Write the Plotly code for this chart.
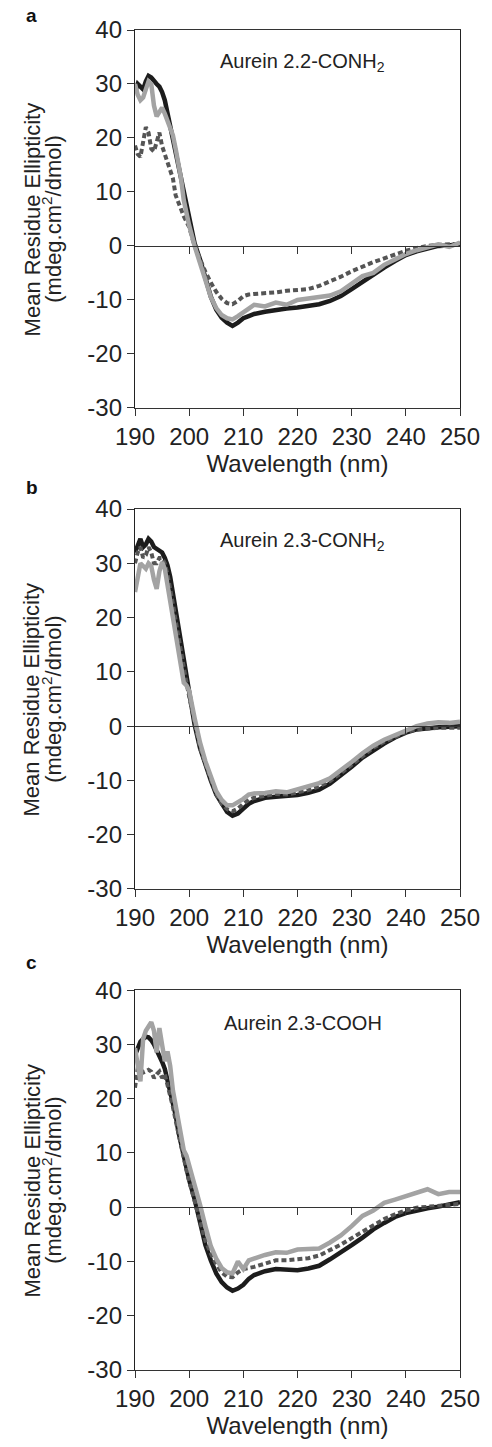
import plotly.graph_objects as go

# ---------------- data ----------------
wavelength = [190, 190.5, 191, 191.5, 192, 192.5, 193, 193.5, 194, 194.5, 195, 195.5,
              196, 196.5, 197, 197.5, 198, 198.5, 199, 199.5, 200,
              201, 202, 203, 204, 205, 206, 207, 208, 209, 210, 211, 212,
              214, 216, 218, 220, 222, 224, 226, 228, 230, 232, 234, 236, 238, 240,
              242, 244, 246, 248, 250]

a_black = [28.5, 30, 29.5, 29, 30.5, 31.5, 31.2, 30.5, 30, 29.5, 28.5, 27,
           24.5, 22.5, 20.5, 18, 15.5, 12.5, 9.5, 7, 4.5,
           0.5, -2.5, -5.8, -9.4, -11.8, -13.3, -14.2, -14.8, -14.2, -13.4, -13, -12.6,
           -12.2, -11.8, -11.6, -11.4, -11.1, -10.8, -10.2, -9.3, -8, -6.6, -5.2, -4, -2.8, -1.7,
           -1, -0.4, 0, 0.1, 0.4]
a_dash = [18.6, 17, 16.5, 19, 22, 21, 18, 17.5, 19, 21, 18.5, 17,
          16, 14.5, 12.5, 9.4, 8, 6.6, 5.5, 4.5, 3.5,
          0, -2.5, -4.8, -6.8, -8.5, -9.8, -10.6, -10.8, -10.2, -9.3, -9, -8.9,
          -8.8, -8.6, -8.3, -8.2, -8, -7.4, -6.6, -5.7, -4.7, -3.8, -3, -2.3, -1.6, -0.9,
          -0.4, 0, 0.2, 0.3, 0.4]
a_gray = [30, 28, 27, 27.5, 29, 30.5, 30, 26, 24, 25, 25.6, 24.5,
          23, 21.8, 20.5, 18, 15.6, 12.5, 8.5, 6, 3.8,
          0, -3, -6.5, -9.5, -11.5, -12.8, -13.4, -13.6, -13, -12.4, -11.6, -10.9,
          -11.2, -10.5, -10.9, -10, -9.8, -9.5, -9.2, -8.4, -7, -5.6, -5, -3.5, -2.5, -1.5,
          -0.8, -0.2, 0.3, -0.2, 0.6]

b_black = [32, 33.5, 34.5, 33, 33.5, 34.5, 34, 33, 32.7, 32.3, 32, 31,
           29.6, 27.5, 24.5, 21.5, 18.5, 15.5, 12.5, 9.5, 6.5,
           0.3, -4, -7.2, -10, -12.6, -14.4, -15.8, -16.5, -16.1, -15.2, -14.3, -13.8,
           -13.2, -13, -12.9, -12.7, -12.3, -11.7, -10.6, -9.1, -7.5, -5.8, -4.4, -3.2, -2.1, -1.2,
           -0.6, -0.3, -0.2, -0.1, 0]
b_dash = [30, 32, 33, 31, 31.5, 33, 32, 30, 30, 31, 31, 30,
          28, 25.5, 22.5, 19.5, 16.5, 13, 10.5, 8, 5.5,
          0.8, -4, -7, -10, -12.5, -14.3, -15.3, -15.7, -15.2, -14.3, -13.6, -13.2,
          -12.8, -12.5, -12.6, -12.2, -11.8, -11.1, -10.1, -8.7, -7.1, -5.4, -4, -2.9, -1.9, -1.1,
          -0.6, -0.4, -0.3, -0.3, -0.3]
b_gray = [24.7, 27.5, 30, 29.5, 29, 30, 29.5, 27, 25.3, 28.5, 30.2, 29,
          26, 23, 19.5, 16, 13.5, 10, 8, 7.5, 6.5,
          1.5, -3, -6.5, -9.5, -12, -13.6, -14.6, -14.6, -14.1, -13.4, -12.6, -12.4,
          -12.3, -12, -12.2, -11.7, -11.1, -10.5, -9.6, -8.2, -6.6, -5, -3.6, -2.5, -1.6, -0.7,
          0, 0.5, 0.7, 0.6, 0.8]

c_black = [28, 29.5, 30.5, 31, 31.4, 31.3, 30.8, 30, 29, 28, 26.8, 25.5,
           23.5, 21.5, 19.3, 17, 14, 11.5, 9.2, 7.2, 5,
           1.5, -2.5, -7, -9.8, -12.2, -13.8, -14.8, -15.4, -15, -14.3, -13.2, -12.5,
           -11.8, -11.4, -11.6, -11.6, -11.3, -10.8, -9.6, -8.4, -7, -5.6, -4.1, -2.9, -1.8, -1.1,
           -0.6, -0.2, 0.1, 0.5, 0.9]
c_dash = [22, 25.6, 25.5, 24.8, 25, 25.3, 25, 23.8, 24.5, 25, 23.8, 24.5,
          22.5, 20.8, 18.5, 16, 13.5, 11, 8.8, 6.8, 4.8,
          1.2, -2.5, -6.2, -8.5, -10.5, -12, -12.8, -12.9, -12, -11.4, -11.2, -11,
          -10.4, -9.8, -9.8, -9.6, -9.4, -8.9, -8, -6.9, -5.7, -4.5, -3.3, -2.2, -1.3, -0.6,
          -0.1, 0.1, 0.3, 0.5, 0.6]
c_gray = [29.3, 26, 23.2, 31, 32.5, 33.3, 34.1, 32.5, 28.5, 33, 30, 26.9,
          28.7, 26, 21.5, 18.5, 15.5, 12.5, 10.5, 9.5, 7.8,
          4.5, 0.5, -3.5, -7.2, -9.5, -11.2, -12, -12.2, -10, -11.4, -9.8, -9.4,
          -8.8, -8.3, -8.4, -7.8, -7.7, -7.6, -6.5, -5.2, -3.5, -1.6, -0.6, 0.8, 1.4, 2,
          2.6, 3.3, 2.4, 2.8, 2.8]

panel_letters = ["a", "b", "c"]
panel_titles = ["Aurein 2.2-CONH<sub>2</sub>", "Aurein 2.3-CONH<sub>2</sub>", "Aurein 2.3-COOH"]
x_ticks = [190, 200, 210, 220, 230, 240, 250]
y_ticks = [-30, -20, -10, 0, 10, 20, 30, 40]
y_tick_labels = ["-30", "-20", "-10", "0", "10", "20", "30", "40"]
x_range = [190, 250]
y_range = [-30, 40]

panels = [(a_black, a_dash, a_gray), (b_black, b_dash, b_gray), (c_black, c_dash, c_gray)]

# ---------------- style ----------------
FONT = "Liberation Sans, Arial, sans-serif"
C_BLACK = "#1c1c1c"
C_DASH = "#555555"
C_GRAY = "#a3a3a3"
domains = [[0.718, 1.0], [0.359, 0.6425], [0.0, 0.2835]]
letter_y = [1.0105, 0.6588, 0.3042]

fig = go.Figure()
layout = dict(
    width=492, height=1447,
    margin=dict(l=135, r=21, t=30, b=66),
    paper_bgcolor="white", plot_bgcolor="white",
    showlegend=False,
    font=dict(family=FONT, color="#222222"),
)
annotations = []

for i, (blk, dsh, gry) in enumerate(panels):
    n = i + 1
    xa = "x" if n == 1 else f"x{n}"
    ya = "y" if n == 1 else f"y{n}"
    fig.add_trace(go.Scatter(x=wavelength, y=blk, mode="lines", xaxis=xa, yaxis=ya,
                             line=dict(color=C_BLACK, width=4.5)))
    fig.add_trace(go.Scatter(x=wavelength, y=dsh, mode="lines", xaxis=xa, yaxis=ya,
                             line=dict(color=C_DASH, width=4, dash="5px,3px")))
    fig.add_trace(go.Scatter(x=wavelength, y=gry, mode="lines", xaxis=xa, yaxis=ya,
                             line=dict(color=C_GRAY, width=4.5)))

    dom = domains[i]
    layout[f"xaxis{'' if n == 1 else n}"] = dict(
        domain=[0, 1], anchor=ya, range=x_range, tickvals=x_ticks,
        ticks="outside", ticklen=7, tickcolor="#333333", tickwidth=1,
        showline=True, linecolor="#333333", linewidth=1, mirror=True,
        showgrid=False, zeroline=False,
        tickfont=dict(size=24, family=FONT, color="#222222"),
        title=dict(text="Wavelength (nm)", font=dict(size=24, family=FONT, color="#222222"),
                   standoff=6),
    )
    layout[f"yaxis{'' if n == 1 else n}"] = dict(
        domain=dom, anchor=xa, range=y_range, tickvals=y_ticks, ticktext=y_tick_labels,
        ticks="outside", ticklen=7, tickcolor="#333333", tickwidth=1,
        showline=True, linecolor="#222222", linewidth=1.3, mirror=True,
        showgrid=False, zeroline=False,
        tickfont=dict(size=24, family=FONT, color="#222222"),
    )
    # horizontal axis crossing at y = 0 with downward ticks
    zero_pos = dom[0] + (0 - y_range[0]) / (y_range[1] - y_range[0]) * (dom[1] - dom[0])
    zn = n + 3
    layout[f"xaxis{zn}"] = dict(
        overlaying=xa, anchor="free", position=zero_pos, side="bottom",
        range=x_range, tickvals=x_ticks[1:-1],
        ticks="outside", ticklen=7, tickcolor="#333333", tickwidth=1,
        showline=True, linecolor="#333333", linewidth=1,
        showticklabels=False, showgrid=False, zeroline=False,
    )
    fig.add_trace(go.Scatter(x=[x_range[0]], y=[0], mode="lines", xaxis=f"x{zn}", yaxis=ya,
                             line=dict(width=0), hoverinfo="skip"))

    # y-axis title, two lines
    annotations.append(dict(text="Mean Residue Ellipticity", xref="paper", yref="paper",
                            x=(29 - 135) / 336, y=(dom[0] + dom[1]) / 2, textangle=-90,
                            showarrow=False, xanchor="center", yanchor="middle",
                            font=dict(size=22, family=FONT, color="#222222")))
    annotations.append(dict(text="(mdeg.cm<sup>2</sup>/dmol)", xref="paper", yref="paper",
                            x=(49 - 135) / 336, y=(dom[0] + dom[1]) / 2, textangle=-90,
                            showarrow=False, xanchor="center", yanchor="middle",
                            font=dict(size=22, family=FONT, color="#222222")))
    # panel letter
    annotations.append(dict(text=f"<b>{panel_letters[i]}</b>", xref="paper", yref="paper",
                            x=(28 - 135) / 336, y=letter_y[i], showarrow=False,
                            xanchor="center", yanchor="middle",
                            font=dict(size=19, family=FONT, color="#111111")))
    # panel title
    annotations.append(dict(text=panel_titles[i], xref=xa, yref=ya, x=221, y=34,
                            showarrow=False, xanchor="center", yanchor="middle",
                            font=dict(size=20, family=FONT, color="#222222")))

layout["annotations"] = annotations
fig.update_layout(**layout)
fig.write_html("out.html")
